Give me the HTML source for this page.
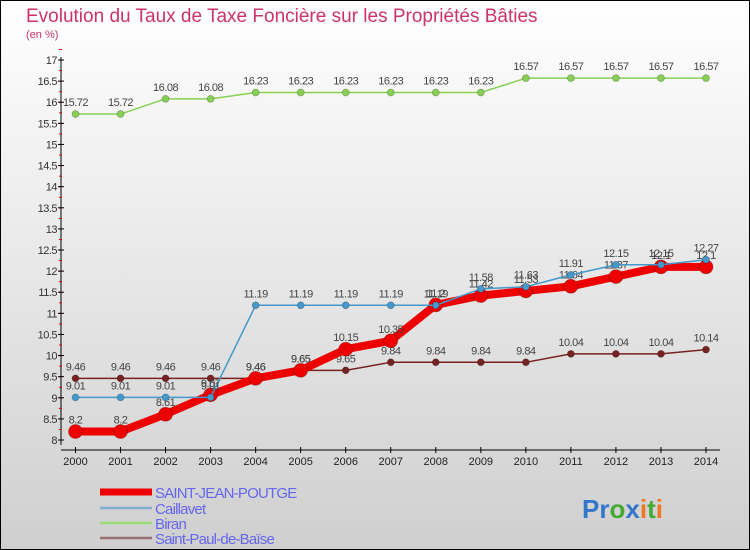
<!DOCTYPE html>
<html><head><meta charset="utf-8"><style>
body{margin:0;width:750px;height:550px;overflow:hidden;font-family:"Liberation Sans",sans-serif}
svg{display:block}
</style></head><body>
<svg id="chart" width="750" height="550" xmlns="http://www.w3.org/2000/svg">
<defs><linearGradient id="bg" x1="0" y1="0" x2="0" y2="1"><stop offset="0" stop-color="#ffffff"/><stop offset="1" stop-color="#cfcfcf"/></linearGradient></defs>
<rect x="0.5" y="0.5" width="749" height="549" fill="url(#bg)" stroke="#000"/>
<text x="26" y="22" font-size="19" fill="#cc3366">Evolution du Taux de Taxe Foncière sur les Propriétés Bâties</text>
<text x="26" y="38" font-size="11" fill="#cc3366">(en %)</text>
<g id="axes"></g><g id="series"></g><g id="legend"></g>
<text x="582" y="518" font-size="26" font-weight="bold"><tspan fill="#3377cc">Pr</tspan><tspan fill="#44aa33">o</tspan><tspan fill="#3377cc">x</tspan><tspan fill="#ee7722">i</tspan><tspan fill="#44aa33">t</tspan><tspan fill="#ee7722">i</tspan></text>
</svg>
<script>
const years=[2000,2001,2002,2003,2004,2005,2006,2007,2008,2009,2010,2011,2012,2013,2014];
const yTicks=[8,8.5,9,9.5,10,10.5,11,11.5,12,12.5,13,13.5,14,14.5,15,15.5,16,16.5,17];
const saintJean=[8.2,8.2,8.61,9.07,9.46,9.65,10.15,10.35,11.2,11.42,11.53,11.64,11.87,12.1,12.1];
const caillavet=[9.01,9.01,9.01,9.01,11.19,11.19,11.19,11.19,11.19,11.58,11.63,11.91,12.15,12.15,12.27];
const biran=[15.72,15.72,16.08,16.08,16.23,16.23,16.23,16.23,16.23,16.23,16.57,16.57,16.57,16.57,16.57];
const saintPaul=[9.46,9.46,9.46,9.46,9.46,9.65,9.65,9.84,9.84,9.84,9.84,10.04,10.04,10.04,10.14];
const seriesNames=["SAINT-JEAN-POUTGE","Caillavet","Biran","Saint-Paul-de-Baïse"];
const NS="http://www.w3.org/2000/svg";
const x=i=>75.5+i*(706-75.5)/(years.length-1);
const y=v=>440-(v-8)*(380/9);
function mk(tag,attrs,parent){const e=document.createElementNS(NS,tag);for(const k in attrs)e.setAttribute(k,attrs[k]);parent.appendChild(e);return e;}
const ax=document.getElementById('axes');
let a=mk('line',{x1:61,y1:57,x2:61,y2:445,stroke:'#000','stroke-width':1},ax);


a=mk('line',{x1:61,y1:450,x2:720,y2:450,stroke:'#000','stroke-width':1},ax);


yTicks.forEach(v=>{
 const t=mk('line',{x1:58,y1:y(v),x2:64,y2:y(v),stroke:'#000'},ax);
 
 
 const m=mk('line',{x1:59,y1:y(v)-10.5,x2:62,y2:y(v)-10.5,stroke:'#e00'},ax);
 
 
 if(v<17){const m2=mk('line',{x1:59,y1:y(v)-21,x2:62,y2:y(v)-21,stroke:'#e00'},ax);}
 const l=mk('text',{x:57,y:y(v)+4,'font-size':11,'text-anchor':'end',fill:'#333','letter-spacing':'-0.5'},ax);
 l.textContent=String(v);
 
 
});
years.forEach((yr,i)=>{
 const t=mk('line',{x1:x(i),y1:447,x2:x(i),y2:453,stroke:'#000'},ax);
 
 
 const l=mk('text',{x:x(i),y:465,'font-size':11,'text-anchor':'middle',fill:'#222'},ax);
 l.textContent=String(yr);
 
 
});
const sg=document.getElementById('series');
function draw(data,color,w,r,name){
 const g=mk('g',{},sg);
 
 
 const p=mk('polyline',{points:data.map((v,i)=>x(i)+','+y(v)).join(' '),fill:'none',stroke:color,'stroke-width':w,'stroke-linejoin':'round'},g);
 
 
 data.forEach((v,i)=>{
  const c=mk('circle',{cx:x(i),cy:y(v),r:r,fill:color,stroke:'rgba(0,0,0,0.25)','stroke-width':0.8},g);
  
  
  const t=mk('text',{x:x(i),y:y(v)-8,'font-size':11,'text-anchor':'middle',fill:'#444','letter-spacing':'-0.5'},g);
  t.textContent=String(v);
  
  
 });
}
draw(biran,'#88d055',1.5,3.5,'biran');
draw(saintPaul,'#772222',1.5,3.5,'saint-paul');
draw(saintJean,'#ee0000',8,7,'saint-jean');
draw(caillavet,'#4499cc',1.5,3.5,'caillavet');
const lg=document.getElementById('legend');
const lcol=['#ee0000','#7fb0d0','#99dd77','#997070'],lw=[7,2.5,2.5,2.5],ly=[492,508,523,538];
seriesNames.forEach((n,i)=>{
 const l=mk('line',{x1:100,y1:ly[i],x2:152,y2:ly[i],stroke:lcol[i],'stroke-width':lw[i]},lg);
 
 
 const t=mk('text',{x:155,y:ly[i]+6,'font-size':15,fill:'#6666ee','letter-spacing':'-0.8'},lg);
 t.textContent=n;
 
 
});
</script>
</body></html>
